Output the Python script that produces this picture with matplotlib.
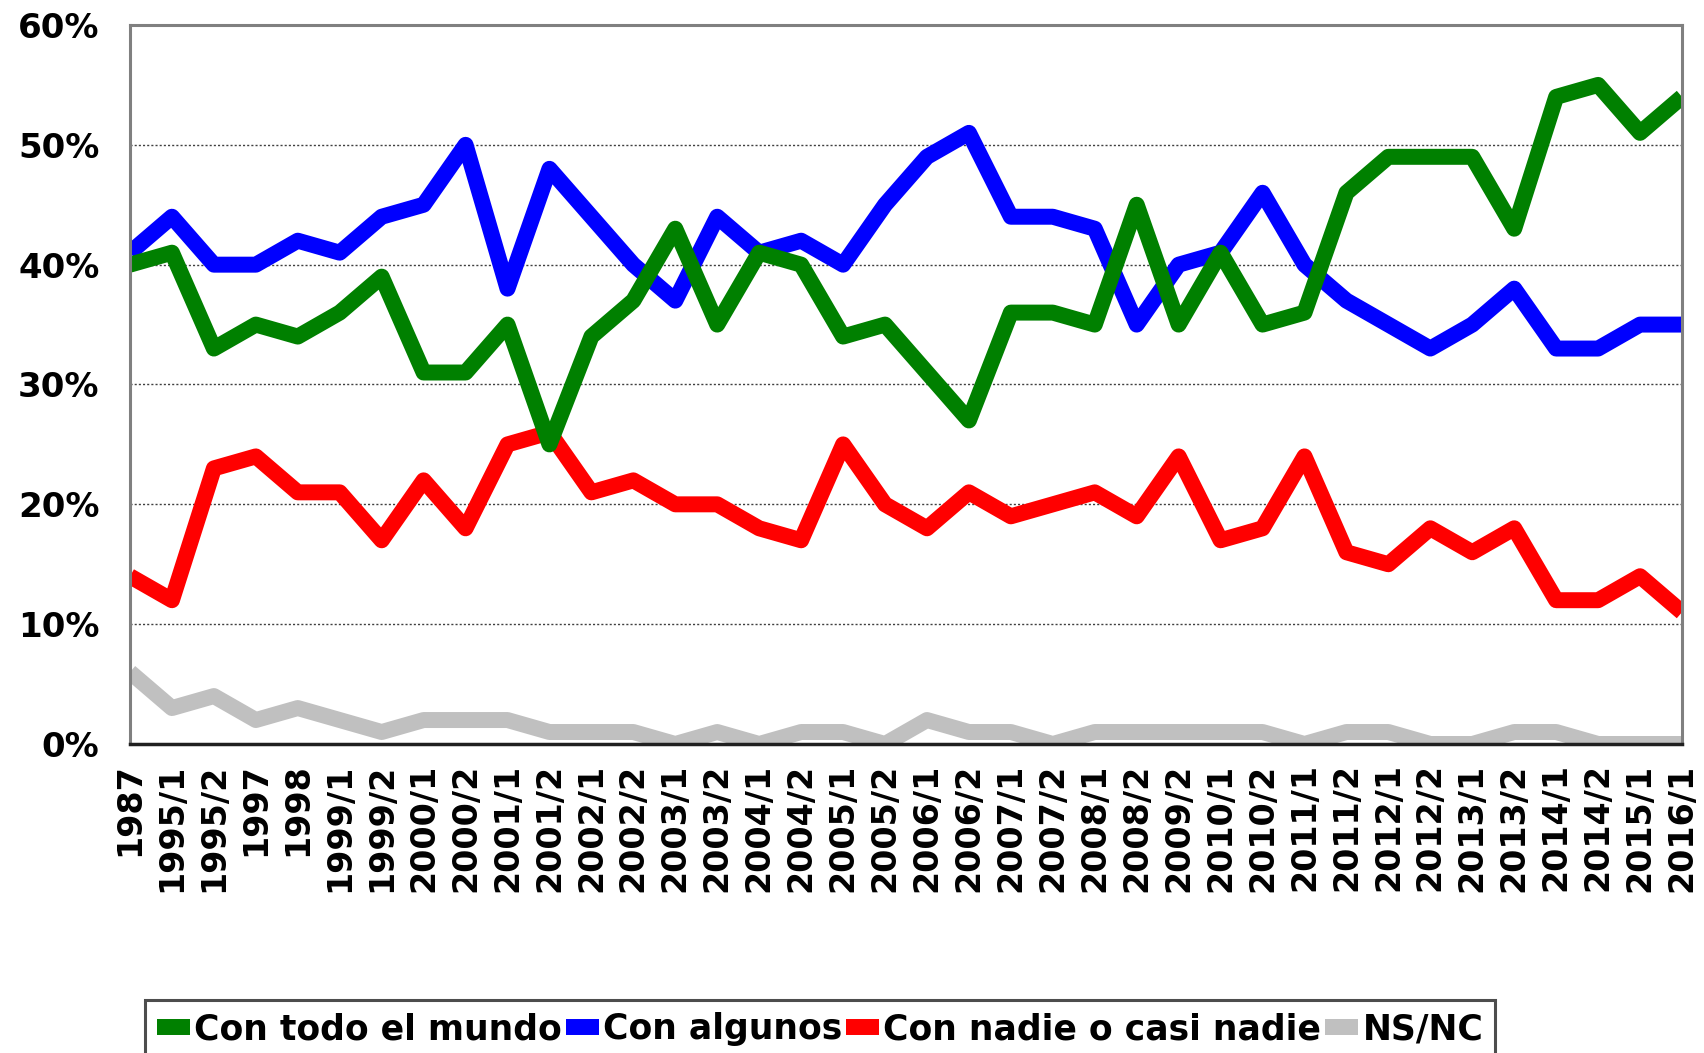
import matplotlib
matplotlib.use("Agg")
import matplotlib.pyplot as plt
from matplotlib.ticker import FuncFormatter

periods = ["1987", "1995/1", "1995/2", "1997", "1998", "1999/1", "1999/2", "2000/1",
           "2000/2", "2001/1", "2001/2", "2002/1", "2002/2", "2003/1", "2003/2", "2004/1",
           "2004/2", "2005/1", "2005/2", "2006/1", "2006/2", "2007/1", "2007/2", "2008/1",
           "2008/2", "2009/2", "2010/1", "2010/2", "2011/1", "2011/2", "2012/1", "2012/2",
           "2013/1", "2013/2", "2014/1", "2014/2", "2015/1", "2016/1"]

con_todo = [40, 41, 33, 35, 34, 36, 39, 31, 31, 35, 25, 34, 37, 43, 35, 41, 40, 34, 35, 31,
            27, 36, 36, 35, 45, 35, 41, 35, 36, 46, 49, 49, 49, 43, 54, 55, 51, 54]
con_algunos = [41, 44, 40, 40, 42, 41, 44, 45, 50, 38, 48, 44, 40, 37, 44, 41, 42, 40, 45, 49,
               51, 44, 44, 43, 35, 40, 41, 46, 40, 37, 35, 33, 35, 38, 33, 33, 35, 35]
con_nadie = [14, 12, 23, 24, 21, 21, 17, 22, 18, 25, 26, 21, 22, 20, 20, 18, 17, 25, 20, 18,
             21, 19, 20, 21, 19, 24, 17, 18, 24, 16, 15, 18, 16, 18, 12, 12, 14, 11]
ns_nc = [6, 3, 4, 2, 3, 2, 1, 2, 2, 2, 1, 1, 1, 0, 1, 0, 1, 1, 0, 2,
         1, 1, 0, 1, 1, 1, 1, 1, 0, 1, 1, 0, 0, 1, 1, 0, 0, 0]

series_names = ["Con todo el mundo", "Con algunos", "Con nadie o casi nadie", "NS/NC"]
colors = ["#008000", "#0000FF", "#FF0000", "#C0C0C0"]

W, H = 1704, 1053
fig = plt.figure(figsize=(W / 100, H / 100), dpi=100)
fig.patch.set_facecolor("white")
ax = fig.add_axes([130 / W, 1 - 744 / H, (1682 - 130) / W, (744 - 25) / H])

x = list(range(len(periods)))
lw = 11.5
data = [con_todo, con_algunos, con_nadie, ns_nc]
z = [5, 4, 3, 2]
handles = []
for vals, name, c, zz in zip(data, series_names, colors, z):
    h, = ax.plot(x, [v / 100 for v in vals], color=c, lw=lw, label=name,
                 solid_joinstyle="round", solid_capstyle="butt", zorder=zz)
    handles.append(h)

ax.set_xlim(0, len(periods) - 1)
ax.set_ylim(0, 0.6)
ax.set_yticks([0, 0.1, 0.2, 0.3, 0.4, 0.5, 0.6])
ax.yaxis.set_major_formatter(FuncFormatter(lambda v, p: f"{v*100:.0f}%"))
ax.set_xticks(x)
ax.set_xticklabels(periods, rotation=90, ha="center", va="top")

for lab in ax.get_yticklabels():
    lab.set_fontsize(24.5)
    lab.set_fontweight("bold")
for lab in ax.get_xticklabels():
    lab.set_fontsize(24)
    lab.set_fontweight("bold")

ax.tick_params(axis="both", length=0)
ax.tick_params(axis="y", pad=22)
ax.tick_params(axis="x", pad=14)

ax.yaxis.grid(True, linestyle=(0, (1.5, 1.5)), color="#404040", linewidth=1.0)
ax.set_axisbelow(True)

for side in ["top", "left", "right"]:
    ax.spines[side].set_color("#808080")
    ax.spines[side].set_linewidth(2.2)
ax.spines["bottom"].set_color("#202020")
ax.spines["bottom"].set_linewidth(2.5)
for s in ax.spines.values():
    s.set_zorder(6)

leg = fig.legend(handles=handles, loc="upper left",
                 bbox_to_anchor=(145 / W, 1 - 1000 / H), bbox_transform=fig.transFigure,
                 ncol=4, frameon=True, fancybox=False, edgecolor="#202020",
                 handlelength=0.95, handletextpad=0.12, columnspacing=0.12,
                 borderpad=0.35, borderaxespad=0,
                 prop={"size": 24.9, "weight": "bold"})
leg.get_frame().set_linewidth(2.2)

fig.savefig("out.png", dpi=100, facecolor="white")
